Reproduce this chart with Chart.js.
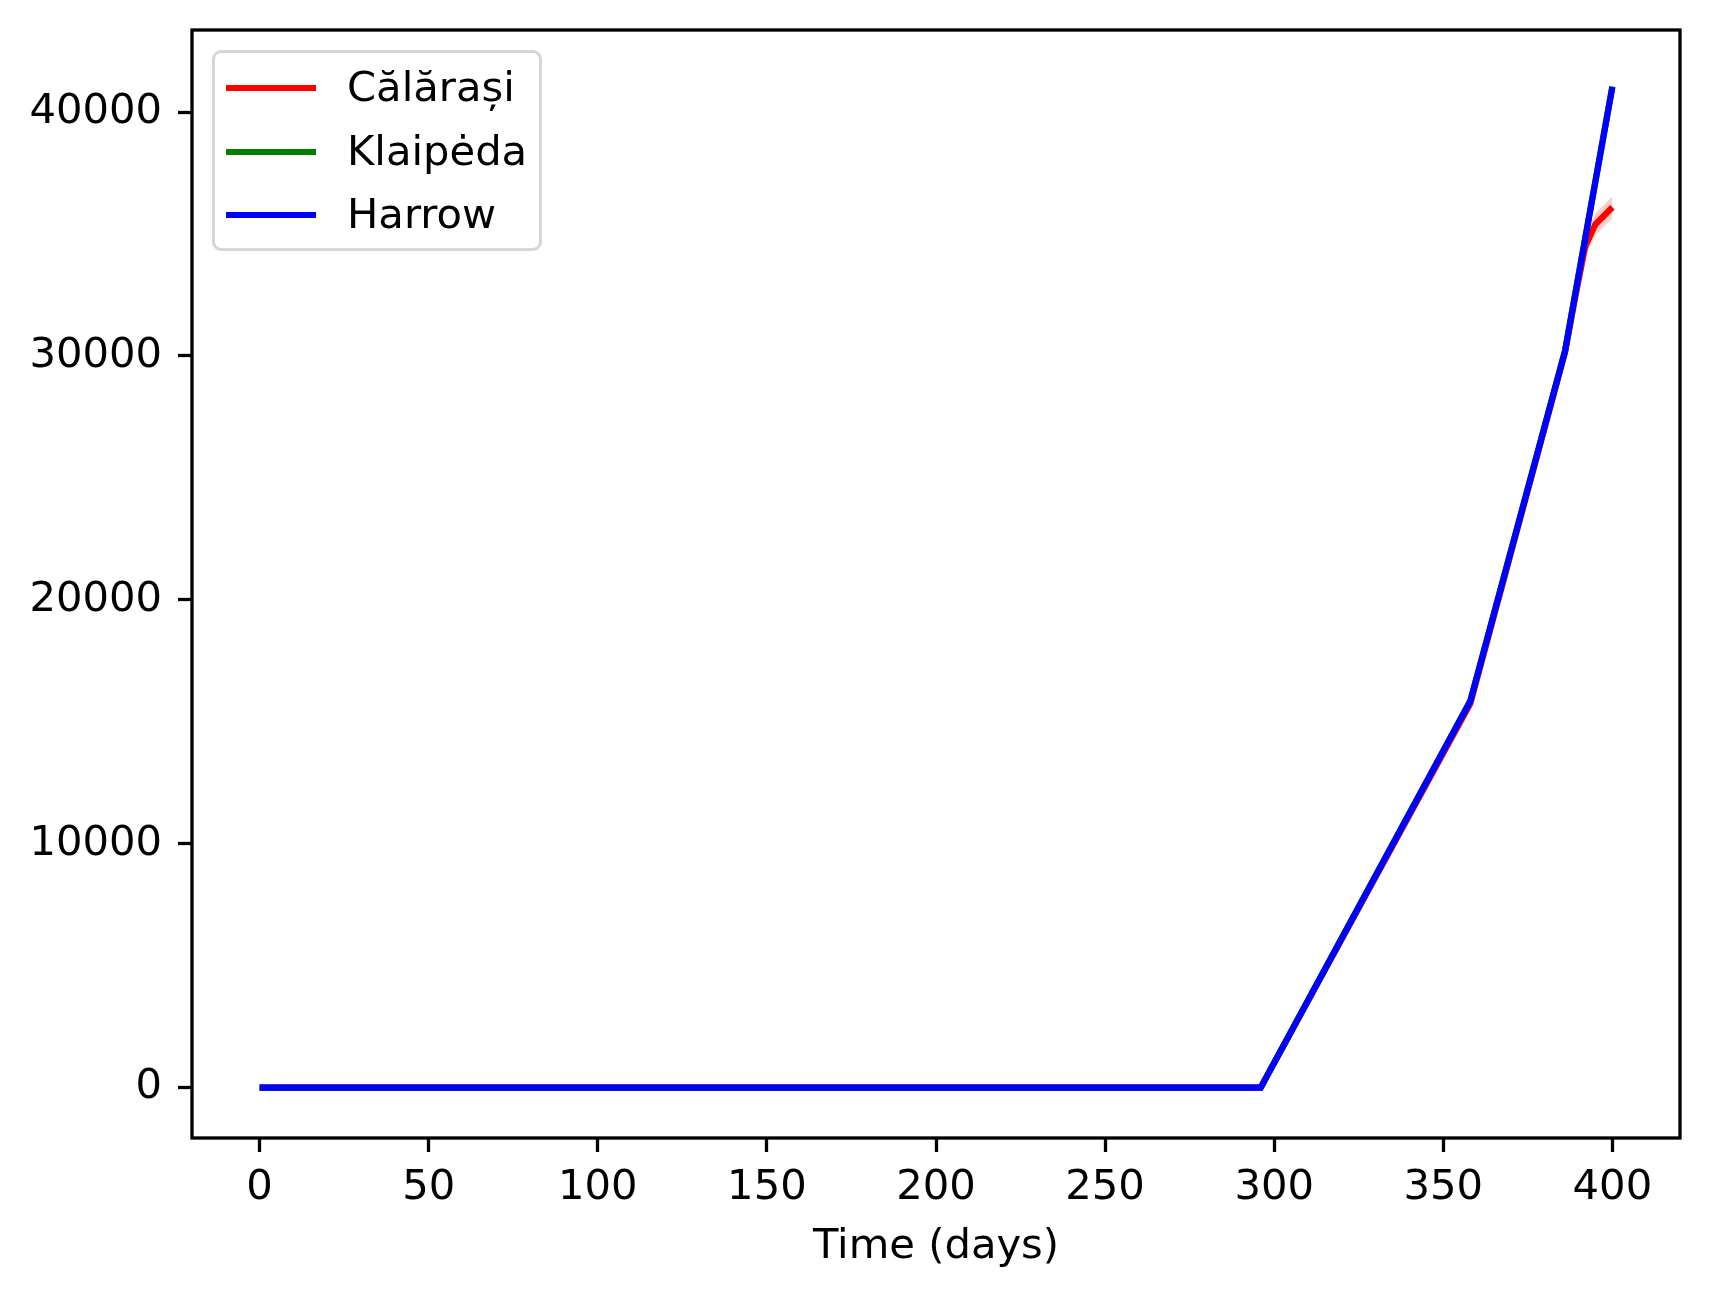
<!DOCTYPE html>
<html>
<head>
<meta charset="utf-8">
<script src="https://cdn.jsdelivr.net/npm/chart.js@4/dist/chart.umd.min.js"></script>
<style>
  body { margin: 0; background: #fff; }
  #wrap { position: relative; width: 1709px; height: 1298px; }
  #chart { display: block; }
  #legend {
    position: absolute; left: 212px; top: 50px; width: 330px; height: 201px;
    box-sizing: border-box; border: 3.3px solid #d6d6d6; border-radius: 9px;
    background: rgba(255,255,255,0.8);
    font-family: "DejaVu Sans", sans-serif; font-size: 41.7px; color: #000;
  }
  .leg-row { position: absolute; left: 0; height: 0; }
  .leg-swatch { position: absolute; left: 11px; top: -3px; width: 90px; height: 6px; }
  .leg-text { position: absolute; left: 132px; top: 0; transform: translateY(-52%); white-space: nowrap; line-height: 1; }
</style>
</head>
<body>
<div id="wrap">
  <canvas id="chart" width="1709" height="1298"></canvas>
  <div id="legend"></div>
</div>
<script>
// ── Data ────────────────────────────────────────────────────────
const seriesNames  = ['Călărași', 'Klaipėda', 'Harrow'];
const seriesColors = ['#ff0000', '#008000', '#0000ff'];
const bandColors   = ['rgba(255,0,0,0.2)', 'rgba(0,128,0,0.2)', 'rgba(0,0,255,0.2)'];

const redDays  = [0, 296, 358, 386, 389, 392, 395, 400];
const redVals  = [0, 0, 15750, 30150, 32400, 34500, 35400, 36100];
const redLow   = [0, 0, 15550, 29950, 32100, 34100, 34950, 35650];
const redHigh  = [0, 0, 15950, 30350, 32700, 34900, 35850, 36550];

const greenDays = [0, 296, 358, 386, 400];
const greenVals = [0, 0, 15850, 30200, 41050];
const greenLow  = [0, 0, 15750, 30100, 40850];
const greenHigh = [0, 0, 15950, 30300, 41300];

const blueDays = [0, 296, 358, 386, 400];
const blueVals = [0, 0, 15850, 30200, 41030];
const blueLow  = [0, 0, 15780, 30130, 40930];
const blueHigh = [0, 0, 15920, 30270, 41130];

const xTicks = [0, 50, 100, 150, 200, 250, 300, 350, 400];
const yTicks = [0, 10000, 20000, 30000, 40000];

// ── Build datasets ──────────────────────────────────────────────
const pts = (xs, ys) => xs.map((x, i) => ({ x, y: ys[i] }));

const lines = [
  pts(redDays, redVals), pts(greenDays, greenVals), pts(blueDays, blueVals)
];
const lows = [
  pts(redDays, redLow), pts(greenDays, greenLow), pts(blueDays, blueLow)
];
const highs = [
  pts(redDays, redHigh), pts(greenDays, greenHigh), pts(blueDays, blueHigh)
];

const datasets = [];
// lines first: blue on top, then green, then red
seriesNames.forEach((name, i) => {
  datasets.push({
    label: name, data: lines[i], borderColor: seriesColors[i],
    borderWidth: 6.25, pointRadius: 0, tension: 0, fill: false,
    order: 2 - i
  });
});
// shaded bands under every line
seriesNames.forEach((name, i) => {
  const lowIdx = datasets.length;
  datasets.push({
    label: name + ' low', data: lows[i], borderWidth: 0, pointRadius: 0,
    fill: false, order: 10 + i
  });
  datasets.push({
    label: name + ' high', data: highs[i], borderWidth: 0, pointRadius: 0,
    backgroundColor: bandColors[i], fill: lowIdx, order: 10 + i
  });
});

// ── Frame plugin (all four spines) ──────────────────────────────
const frame = {
  id: 'frame',
  afterDraw(chart) {
    const { ctx, chartArea: a } = chart;
    ctx.save();
    ctx.strokeStyle = '#000';
    ctx.lineWidth = 3.3;
    ctx.strokeRect(a.left, a.top, a.right - a.left, a.bottom - a.top);
    ctx.restore();
  }
};

const font = { family: '"DejaVu Sans", sans-serif', size: 41.7 };

const chart = new Chart(document.getElementById('chart'), {
  type: 'line',
  data: { datasets },
  options: {
    responsive: false,
    animation: false,
    devicePixelRatio: 1,
    layout: { padding: { top: 30, right: 29, left: 0, bottom: 0 } },
    plugins: { legend: { display: false }, tooltip: { enabled: false } },
    scales: {
      x: {
        type: 'linear', min: -20, max: 420,
        afterBuildTicks: s => { s.ticks = xTicks.map(v => ({ value: v })); },
        afterFit: s => { s.height = 160; s.paddingLeft = 0; s.paddingRight = 0; },
        grid: { drawOnChartArea: false, drawTicks: true, tickLength: 14, tickWidth: 3.3, tickColor: '#000' },
        border: { display: false },
        ticks: { font, color: '#000', padding: 11, maxRotation: 0, autoSkip: false },
        title: { display: true, text: 'Time (days)', font, color: '#000', padding: { top: 0, bottom: 26 } }
      },
      y: {
        type: 'linear', min: -2065, max: 43365,
        afterBuildTicks: s => { s.ticks = yTicks.map(v => ({ value: v })); },
        afterFit: s => { s.width = 192; s.paddingTop = 0; s.paddingBottom = 0; },
        grid: { drawOnChartArea: false, drawTicks: true, tickLength: 14, tickWidth: 3.3, tickColor: '#000' },
        border: { display: false },
        ticks: { font, color: '#000', padding: 16, autoSkip: false, callback: v => String(v) }
      }
    }
  },
  plugins: [frame]
});

// ── HTML legend ─────────────────────────────────────────────────
const legendRows = [35, 98.7, 161.7];
document.getElementById('legend').innerHTML = seriesNames.map((name, i) => `
  <div class="leg-row" style="top:${legendRows[i]}px">
    <div class="leg-swatch" style="background:${seriesColors[i]}"></div>
    <div class="leg-text">${name}</div>
  </div>`).join('');
</script>
</body>
</html>
